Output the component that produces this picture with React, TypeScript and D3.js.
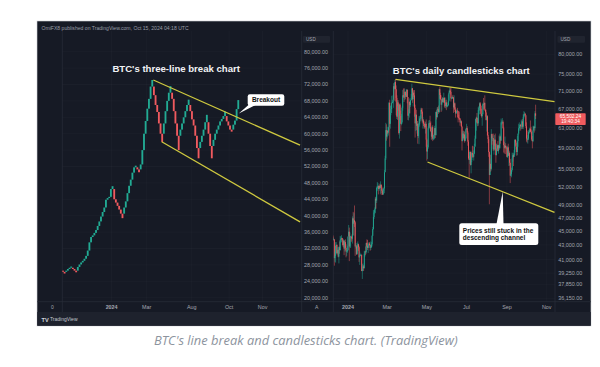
import React from 'react';
import * as d3 from 'd3';

// ---------- Left chart: three-line break bricks (closes, USD thousands) ----------
const lbOpen0 = 26.6;
const lbCloses = [
  26.3, 25.9, 26.6, 27.0, 27.3, 27.6, 27.0, 26.6, 26.2, 27.5, 28.1,
  28.6, 29.0, 29.5, 30.2, 31.5, 33.5, 34.8,
  35.2, 35.8, 36.5, 37.5, 38.6, 39.8, 40.9, 42.0, 43.9,
  44.3, 44.6, 46.5, 47.2,
  44.0, 43.2, 42.4, 41.5, 40.5, 39.4,
  42.0, 43.5, 45.5, 47.3, 48.8, 50.5,
  51.8, 52.2, 51.3, 50.6, 52.5,
  56.0, 60.0, 63.1, 66.1, 68.5, 71.5, 73.1,
  69.4, 67.0, 65.3, 62.5, 60.0, 58.0,
  62.5, 65.5, 68.0, 70.0, 71.6,
  68.5, 65.5, 62.5, 59.5, 56.0,
  61.0, 62.5, 64.0, 65.5, 67.0, 68.3,
  65.5, 63.5, 62.0, 59.5, 56.5, 54.0,
  58.0, 59.5, 61.0, 62.8, 64.6,
  60.0, 57.0, 54.0,
  58.5, 60.0, 61.0, 62.0, 63.0, 63.6, 64.3, 65.4,
  63.0, 62.0, 61.0, 60.5,
  62.2, 63.2, 66.0, 68.2,
];
const lbTickLabels = ['2024', 'Mar', 'Aug', 'Oct', 'Nov'];
const lbTickIndex = [30, 51.2, 78.4, 101, 121.3];
const leftPriceTicks = [20, 24, 28, 32, 36, 40, 44, 48, 52, 56, 60, 64, 68, 72, 76, 80];
const lbUpperTrend = [[55.2, 73.1], [143.9, 57.2]];
const lbLowerTrend = [[60.3, 58.05], [143.9, 38.5]];

// ---------- Right chart: daily candles from 2023-12-08 (USD thousands) ----------
const candleStart = '2023-12-08';
const candleOpen0 = 43.3;
const candleClose = [
  // Dec 8-31
  44.2, 43.7, 43.8, 41.2, 41.5, 42.9, 43.0, 41.9, 42.3, 41.4, 42.7, 42.3, 43.7, 43.9, 44.0, 43.7, 43.0, 43.6, 42.5, 43.4, 42.6, 42.1, 42.1, 42.3,
  // Jan
  44.2, 44.9, 42.8, 44.2, 44.2, 44.0, 43.9, 46.9, 46.1, 46.6, 46.3, 42.8, 42.8, 41.7, 42.5, 43.1, 42.7, 41.3, 41.6, 41.6, 41.6, 39.5, 39.8, 40.1, 39.9, 41.8, 42.1, 42.0, 43.3, 42.9, 42.6,
  // Feb
  43.1, 43.2, 43.0, 42.6, 42.7, 43.1, 44.3, 45.3, 47.1, 47.8, 48.3, 50.0, 49.7, 51.8, 52.0, 52.1, 51.6, 52.1, 51.8, 52.3, 51.8, 51.3, 50.7, 51.6, 51.7, 54.5, 57.0, 62.5, 61.2,
  // Mar
  62.4, 62.0, 63.1, 68.3, 63.8, 66.1, 66.9, 68.3, 68.5, 69.0, 72.1, 71.5, 73.1, 71.4, 69.4, 65.3, 68.4, 67.6, 61.9, 67.9, 65.5, 63.8, 64.1, 67.2, 70.0, 69.9, 69.5, 70.8, 70.0, 69.7, 71.3,
  // Apr
  69.6, 65.5, 66.0, 68.5, 67.8, 68.9, 69.4, 71.6, 69.1, 70.6, 70.0, 67.2, 63.9, 65.7, 63.4, 63.8, 61.3, 63.5, 63.8, 64.9, 64.9, 66.8, 66.4, 64.3, 64.5, 63.8, 63.4, 63.1, 63.8, 60.6,
  // May
  58.3, 59.1, 62.9, 63.9, 64.0, 63.2, 62.3, 61.2, 63.1, 60.8, 60.8, 61.5, 62.9, 61.5, 66.3, 65.2, 67.0, 66.9, 66.3, 71.4, 70.1, 69.1, 67.9, 68.5, 69.3, 68.5, 69.4, 68.3, 67.6, 68.4, 67.5,
  // Jun
  67.8, 67.8, 68.8, 70.6, 71.1, 70.8, 69.3, 69.3, 69.6, 69.5, 67.3, 68.2, 66.8, 66.0, 66.2, 66.6, 66.5, 65.2, 65.0, 64.9, 64.1, 64.3, 63.2, 60.3, 61.8, 60.9, 61.6, 60.3, 60.9, 62.7,
  // Jul
  62.9, 62.0, 60.2, 57.0, 56.7, 58.2, 55.8, 56.7, 58.0, 57.7, 57.3, 57.9, 59.2, 60.8, 64.8, 65.1, 64.1, 63.9, 66.7, 67.2, 68.2, 67.6, 65.9, 65.4, 65.8, 68.0, 67.9, 68.3, 66.8, 66.2, 64.6,
  // Aug
  65.4, 61.5, 60.7, 58.2, 54.0, 56.0, 55.1, 61.7, 60.9, 60.9, 58.7, 59.4, 60.6, 58.7, 57.6, 58.9, 59.5, 58.4, 59.5, 59.0, 61.2, 60.4, 64.1, 64.2, 64.2, 62.9, 59.5, 59.0, 59.4, 59.1, 58.9,
  // Sep
  57.3, 59.1, 57.5, 58.0, 56.2, 53.9, 54.2, 54.9, 57.0, 57.6, 57.3, 58.1, 60.6, 60.0, 59.2, 58.2, 60.3, 61.8, 62.9, 63.2, 63.6, 63.3, 63.3, 64.3, 63.2, 65.2, 65.8, 65.9, 65.6, 63.3,
  // Oct 1-15
  60.8, 60.6, 60.8, 62.1, 62.1, 62.8, 62.2, 62.1, 60.6, 60.3, 62.4, 63.2, 62.9, 66.0, 65.5,
];
const candleHigh = [
  44.7, 44.4, 44.0, 43.8, 42.1, 43.4, 43.4, 43.1, 42.7, 42.4, 42.8, 43.5, 44.3, 44.2, 44.4, 44.0, 43.9, 43.8, 43.6, 43.7, 43.8, 43.1, 42.6, 42.9,
  44.2, 45.9, 45.5, 44.8, 44.3, 44.2, 44.5, 47.2, 47.9, 47.7, 48.9, 46.5, 43.3, 43.0, 43.3, 43.5, 43.2, 42.9, 42.1, 41.8, 41.8, 41.7, 40.4, 40.5, 40.3, 42.2, 42.2, 42.8, 43.3, 43.8, 43.7,
  43.2, 43.4, 43.4, 43.1, 43.5, 43.4, 44.4, 45.6, 48.2, 48.1, 48.6, 50.3, 50.3, 52.0, 52.8, 52.6, 52.2, 52.3, 52.5, 52.9, 52.4, 52.0, 51.5, 51.7, 51.9, 54.9, 57.5, 64.0, 63.7,
  63.2, 62.4, 63.2, 68.5, 69.0, 67.6, 67.8, 69.9, 68.6, 70.0, 72.8, 72.9, 73.6, 73.8, 72.3, 70.0, 68.9, 68.9, 68.1, 68.1, 68.2, 66.6, 65.9, 67.5, 71.2, 71.5, 71.7, 71.5, 70.9, 70.3, 71.4,
  71.3, 69.6, 66.9, 69.3, 68.7, 69.0, 70.3, 72.7, 71.7, 71.1, 71.2, 71.2, 67.9, 65.9, 66.8, 64.4, 64.4, 64.0, 65.4, 65.4, 65.6, 67.2, 67.2, 67.1, 65.2, 64.8, 63.9, 64.3, 64.2, 64.7,
  60.8, 59.6, 63.3, 64.5, 64.6, 65.5, 64.3, 62.9, 63.4, 63.5, 61.5, 61.8, 63.4, 63.0, 66.4, 66.7, 67.4, 67.4, 67.7, 71.5, 71.9, 70.6, 70.0, 69.2, 69.6, 69.5, 70.6, 69.6, 68.9, 69.5, 69.0,
  67.9, 68.4, 70.2, 71.1, 71.8, 71.6, 71.9, 69.6, 69.9, 70.1, 69.6, 70.0, 68.4, 67.3, 66.4, 66.9, 67.2, 66.6, 65.7, 66.4, 65.0, 64.5, 64.5, 63.4, 62.3, 62.4, 62.3, 62.2, 61.2, 62.9,
  63.8, 63.3, 62.3, 60.5, 57.5, 58.5, 58.3, 58.2, 58.3, 59.4, 59.3, 58.5, 59.8, 61.4, 64.9, 65.3, 66.1, 65.0, 67.4, 67.6, 68.4, 68.5, 67.8, 67.0, 66.1, 68.3, 69.4, 68.4, 70.0, 66.9, 66.8,
  65.6, 65.6, 62.1, 61.1, 58.3, 57.0, 57.7, 62.7, 61.8, 61.4, 61.8, 60.6, 61.5, 61.8, 59.8, 59.8, 59.6, 60.3, 59.6, 61.4, 61.8, 61.4, 64.9, 64.5, 65.0, 64.5, 63.2, 60.2, 61.2, 59.9, 59.4,
  58.9, 59.4, 59.8, 58.5, 58.3, 56.9, 54.8, 55.3, 58.1, 58.0, 57.9, 58.6, 60.6, 60.6, 60.4, 59.2, 61.3, 61.8, 63.8, 64.1, 63.6, 63.8, 64.7, 64.5, 64.8, 65.8, 66.5, 66.3, 66.1, 65.6,
  64.1, 62.4, 61.5, 62.5, 62.4, 63.0, 64.5, 63.2, 62.6, 61.3, 63.4, 63.4, 63.3, 66.5, 67.9,
];
const candleLow = [
  43.1, 43.6, 43.6, 40.2, 40.7, 40.6, 41.8, 41.7, 41.7, 41.3, 40.5, 41.8, 42.2, 43.3, 43.4, 43.6, 42.8, 42.7, 41.6, 42.1, 42.3, 41.3, 41.5, 41.9,
  42.2, 44.2, 40.8, 42.6, 42.6, 43.4, 43.6, 43.2, 44.4, 44.3, 45.6, 41.5, 42.5, 41.7, 41.8, 42.1, 42.2, 40.7, 40.3, 41.5, 41.5, 39.5, 38.5, 39.5, 39.5, 39.8, 41.4, 41.6, 41.8, 42.7, 42.3,
  41.9, 42.6, 42.9, 42.2, 42.3, 42.6, 42.8, 44.3, 45.2, 46.8, 47.6, 47.7, 48.4, 49.3, 51.3, 51.6, 50.7, 51.3, 51.7, 50.8, 50.6, 50.9, 50.6, 50.6, 51.3, 50.9, 54.5, 56.7, 60.4,
  60.8, 61.7, 61.4, 62.4, 59.2, 62.8, 65.6, 66.1, 68.2, 68.2, 67.2, 68.8, 71.3, 68.6, 65.6, 64.8, 64.6, 66.6, 61.6, 60.8, 64.6, 62.3, 63.5, 63.8, 66.6, 69.5, 68.5, 68.9, 69.1, 69.6, 69.6,
  68.2, 64.6, 64.5, 65.1, 66.0, 67.4, 68.8, 69.0, 68.3, 67.5, 69.6, 65.3, 61.0, 62.3, 62.5, 61.8, 59.8, 60.9, 59.7, 63.2, 64.3, 64.5, 65.9, 63.9, 62.8, 63.3, 62.8, 62.8, 61.8, 59.2,
  56.6, 56.9, 58.8, 62.6, 62.9, 62.8, 62.1, 60.6, 60.6, 60.3, 60.5, 60.6, 60.8, 60.9, 61.4, 64.7, 65.1, 66.6, 65.9, 66.1, 69.2, 68.9, 66.3, 66.6, 68.4, 68.3, 68.3, 67.3, 67.2, 67.1, 66.7,
  67.4, 67.3, 67.6, 68.6, 70.4, 70.2, 68.6, 69.1, 69.2, 69.2, 66.1, 66.9, 66.3, 65.1, 65.9, 66.1, 65.1, 64.1, 64.7, 64.6, 63.4, 63.9, 63.2, 58.5, 60.3, 60.6, 60.6, 60.0, 60.4, 60.7,
  62.5, 61.8, 59.4, 56.8, 53.5, 56.0, 55.7, 54.3, 56.3, 57.2, 57.1, 56.6, 57.8, 59.3, 60.7, 62.4, 63.9, 63.3, 63.4, 66.5, 65.8, 66.6, 65.5, 65.1, 63.4, 65.8, 66.8, 67.1, 66.5, 65.3, 64.5,
  62.2, 61.3, 59.9, 57.3, 49.1, 54.0, 54.6, 54.8, 59.6, 60.3, 58.4, 57.7, 58.5, 58.5, 56.2, 57.7, 58.8, 58.3, 57.9, 58.6, 58.8, 59.8, 60.4, 63.6, 63.8, 62.8, 58.1, 57.9, 58.8, 57.8, 58.8,
  57.2, 57.1, 57.5, 55.6, 55.7, 52.6, 53.8, 53.6, 54.6, 56.4, 55.6, 57.3, 57.6, 59.4, 58.7, 57.5, 57.6, 59.2, 61.6, 62.4, 62.8, 62.4, 62.7, 62.7, 62.8, 62.7, 64.9, 65.4, 65.5, 62.9,
  60.2, 60.0, 59.8, 60.5, 61.7, 62.0, 62.1, 61.8, 60.3, 58.9, 60.1, 62.4, 62.0, 62.4, 64.8,
];
const timeTickLabels = ['2024', 'Mar', 'May', 'Jul', 'Sep', 'Nov'];
const timeTickDates = ['2024-01-01', '2024-03-01', '2024-05-01', '2024-07-01', '2024-09-01', '2024-11-01'];
const rightPriceTicks = [80, 75, 71, 67, 63, 59, 55, 52, 49, 47, 45, 43, 41, 39.25, 37.85, 36.15];
const rightUpperTrend: [string, number][] = [['2024-03-14', 73.75], ['2024-11-13', 68.56]];
const rightLowerTrend: [string, number][] = [['2024-05-02', 56.34], ['2024-11-13', 47.83]];
const lastPrice = 65.50224;
const countdown = '19:40:34';

const UP = '#22ab94';
const DOWN = '#f05a5f';
const YELLOW = '#cfc93f';
const FONT = '"Liberation Sans", Arial, sans-serif';

export default function App() {
  // scales
  const xLB = d3.scaleLinear().domain([0, lbCloses.length]).range([62, 239]);
  const step = xLB(1) - xLB(0);
  const yL = d3.scaleLinear().domain([20, 80]).range([297.7, 51.7]);

  const parse = d3.utcParse('%Y-%m-%d');
  const xT = d3.scaleUtc().domain([parse('2024-01-01')!, parse('2024-11-01')!]).range([348, 546.7]);
  const yR = d3.scaleLog().domain([36.15, 80]).range([298.3, 54.3]);
  const fmt = d3.format(',.2f');

  // bricks
  const bricks: { i: number; o: number; c: number; up: boolean }[] = [];
  let prevO = lbOpen0, prevC = lbOpen0;
  let prevUp: boolean | null = null;
  lbCloses.forEach((c, i) => {
    const up = c > prevC;
    const o = prevUp === null || up === prevUp ? prevC : prevO;
    bricks.push({ i, o, c, up });
    prevO = o; prevC = c; prevUp = up;
  });

  // candles
  const d0 = parse(candleStart)!;
  const candles = candleClose.map((c, i) => {
    const o = i === 0 ? candleOpen0 : candleClose[i - 1];
    return { x: xT(d3.utcDay.offset(d0, i)), o, c, h: candleHigh[i], l: candleLow[i] };
  });

  const leftLine = d3.line<number[]>().x(d => xLB(d[0])).y(d => yL(d[1]));
  const rightLine = d3.line<[string, number]>().x(d => xT(parse(d[0])!)).y(d => yR(d[1]));

  const gridCol = 'rgba(255,255,255,0.045)';
  const sepCol = '#2a2e3a';
  const labelCol = '#a3a6af';
  const yLast = yR(lastPrice);

  return (
    <svg width={600} height={367} style={{ position: 'absolute', left: 0, top: 0 }} fontFamily={FONT}>
      <defs>
        <clipPath id="clipL"><rect x={62.3} y={21} width={239.4} height={280.7} /></clipPath>
        <clipPath id="clipR"><rect x={333.3} y={21} width={221.7} height={280.7} /></clipPath>
      </defs>
      <rect width={600} height={367} fill="#ffffff" />
      {/* panel */}
      <rect x={37} y={21} width={554} height={305} fill="#161a25" stroke="#cfd2d6" strokeWidth={0.6} />
      <rect x={37.3} y={312} width={553.4} height={13.7} fill="#1e222d" />

      {/* grids */}
      {leftPriceTicks.map(v => (
        <line key={'gl' + v} x1={62.3} x2={301.7} y1={yL(v)} y2={yL(v)} stroke={gridCol} strokeWidth={0.6} />
      ))}
      {lbTickIndex.map((t, k) => (
        <line key={'gvl' + k} x1={xLB(t)} x2={xLB(t)} y1={31} y2={301.7} stroke={gridCol} strokeWidth={0.6} />
      ))}
      {rightPriceTicks.map(v => (
        <line key={'gr' + v} x1={333.3} x2={555} y1={yR(v)} y2={yR(v)} stroke={gridCol} strokeWidth={0.6} />
      ))}
      {timeTickDates.map(d => (
        <line key={'gvr' + d} x1={xT(parse(d)!)} x2={xT(parse(d)!)} y1={31} y2={301.7} stroke={gridCol} strokeWidth={0.6} />
      ))}

      {/* separators */}
      {[62.3, 301.7, 333.3, 555].map(x => (
        <line key={'s' + x} x1={x} x2={x} y1={31} y2={312} stroke={sepCol} strokeWidth={0.7} />
      ))}
      <line x1={37} x2={591} y1={301.7} y2={301.7} stroke={sepCol} strokeWidth={0.7} />

      {/* header */}
      <text x={41.5} y={29.9} fontSize={5.1} fill="#9a9ea8">OmiFX8 published on TradingView.com, Oct 15, 2024 04:18 UTC</text>

      {/* left: line break bricks */}
      <g clipPath="url(#clipL)">
        {bricks.map(b => (
          <rect key={'b' + b.i} x={xLB(b.i)} width={step + 0.2}
            y={yL(Math.max(b.o, b.c))} height={Math.max(0.9, Math.abs(yL(b.o) - yL(b.c)))}
            fill={b.up ? UP : DOWN} />
        ))}
        <path d={leftLine(lbUpperTrend) || ''} stroke={YELLOW} strokeWidth={1.3} fill="none" />
        <path d={leftLine(lbLowerTrend) || ''} stroke={YELLOW} strokeWidth={1.3} fill="none" />
      </g>

      {/* right: candles */}
      <g clipPath="url(#clipR)">
        {candles.map((k, i) => {
          const col = k.c >= k.o ? UP : DOWN;
          const top = yR(Math.max(k.o, k.c));
          const bot = yR(Math.min(k.o, k.c));
          return (
            <g key={'c' + i}>
              <line x1={k.x} x2={k.x} y1={yR(k.h)} y2={yR(k.l)} stroke={col} strokeWidth={0.5} />
              <rect x={k.x - 0.45} width={0.9} y={top} height={Math.max(0.5, bot - top)} fill={col} />
            </g>
          );
        })}
        <path d={rightLine(rightUpperTrend) || ''} stroke={YELLOW} strokeWidth={1.3} fill="none" />
        <path d={rightLine(rightLowerTrend) || ''} stroke={YELLOW} strokeWidth={1.3} fill="none" />
      </g>

      {/* titles */}
      <text x={176.2} y={72.3} textAnchor="middle" fontSize={9.6} fontWeight="bold" fill="#f2f3f5">BTC's three-line break chart</text>
      <text x={461.3} y={74.2} textAnchor="middle" fontSize={9.5} fontWeight="bold" fill="#f2f3f5">BTC's daily candlesticks chart</text>

      {/* callout: Breakout */}
      <path d="M249,104.5 L256.5,104.5 L238.8,113.5 Z" fill="#ffffff" />
      <rect x={247.7} y={94.3} width={36.6} height={11.4} rx={2.2} fill="#ffffff" />
      <text x={266} y={102.3} textAnchor="middle" fontSize={6.5} fontWeight="bold" fill="#111">Breakout</text>

      {/* callout: channel */}
      <path d="M496.5,224 L503.5,224 L502.7,191.8 Z" fill="#ffffff" />
      <rect x={459.3} y={223.3} width={79} height={21.7} rx={2.5} fill="#ffffff" />
      <text x={462.8} y={233.2} fontSize={6.5} fontWeight="bold" fill="#111">Prices still stuck in the</text>
      <text x={462.8} y={240.2} fontSize={6.5} fontWeight="bold" fill="#111">descending channel</text>

      {/* price axes */}
      <rect x={303} y={36} width={27} height={6.8} rx={1} fill="#20242f" />
      <text x={306} y={41.2} fontSize={4.6} fill={labelCol}>USD</text>
      {leftPriceTicks.map(v => (
        <text key={'tl' + v} x={304} y={yL(v) + 1.9} fontSize={5.4} fill={labelCol}>{fmt(v * 1000)}</text>
      ))}
      <rect x={557.5} y={36} width={27.5} height={6.8} rx={1} fill="#20242f" />
      <text x={560.5} y={41.2} fontSize={4.6} fill={labelCol}>USD</text>
      {rightPriceTicks.map(v => (
        <text key={'tr' + v} x={558.3} y={yR(v) + 1.9} fontSize={5.4} fill={labelCol}>{fmt(v * 1000)}</text>
      ))}
      {/* last price tag */}
      <rect x={555.3} y={yLast - 2.4} width={30.4} height={11.7} rx={0.8} fill="#ef5b5e" />
      <text x={570.5} y={yLast + 2.6} textAnchor="middle" fontSize={4.8} fill="#ffffff">{fmt(lastPrice * 1000)}</text>
      <text x={570.5} y={yLast + 7.6} textAnchor="middle" fontSize={4.8} fill="#ffffff">{countdown}</text>

      {/* time axes */}
      <text x={52.5} y={308.5} textAnchor="middle" fontSize={5} fill={labelCol}>0</text>
      {lbTickLabels.map((t, k) => (
        <text key={'lt' + k} x={xLB(lbTickIndex[k])} y={308.6} textAnchor="middle" fontSize={5.4}
          fontWeight={t === '2024' ? 'bold' : 'normal'} fill={labelCol}>{t}</text>
      ))}
      <text x={316.7} y={308.6} textAnchor="middle" fontSize={5} fill={labelCol}>A</text>
      {timeTickLabels.map((t, k) => (
        <text key={'rt' + k} x={xT(parse(timeTickDates[k])!)} y={308.6} textAnchor="middle" fontSize={5.4}
          fontWeight={t === '2024' ? 'bold' : 'normal'} fill={labelCol}>{t}</text>
      ))}

      {/* TradingView footer */}
      <text x={41.5} y={321.6} fontSize={5.6} fontWeight="bold" fill="#d1d4dc">TV</text>
      <text x={50} y={321.4} fontSize={5} fill="#c4c7cf">TradingView</text>

      {/* caption */}
      <text x={305.8} y={345} textAnchor="middle" fontSize={12.9} fontStyle="italic"
        fontFamily='"Open Sans", sans-serif' fill="#8d949e">BTC's line break and candlesticks chart. (TradingView)</text>
    </svg>
  );
}
